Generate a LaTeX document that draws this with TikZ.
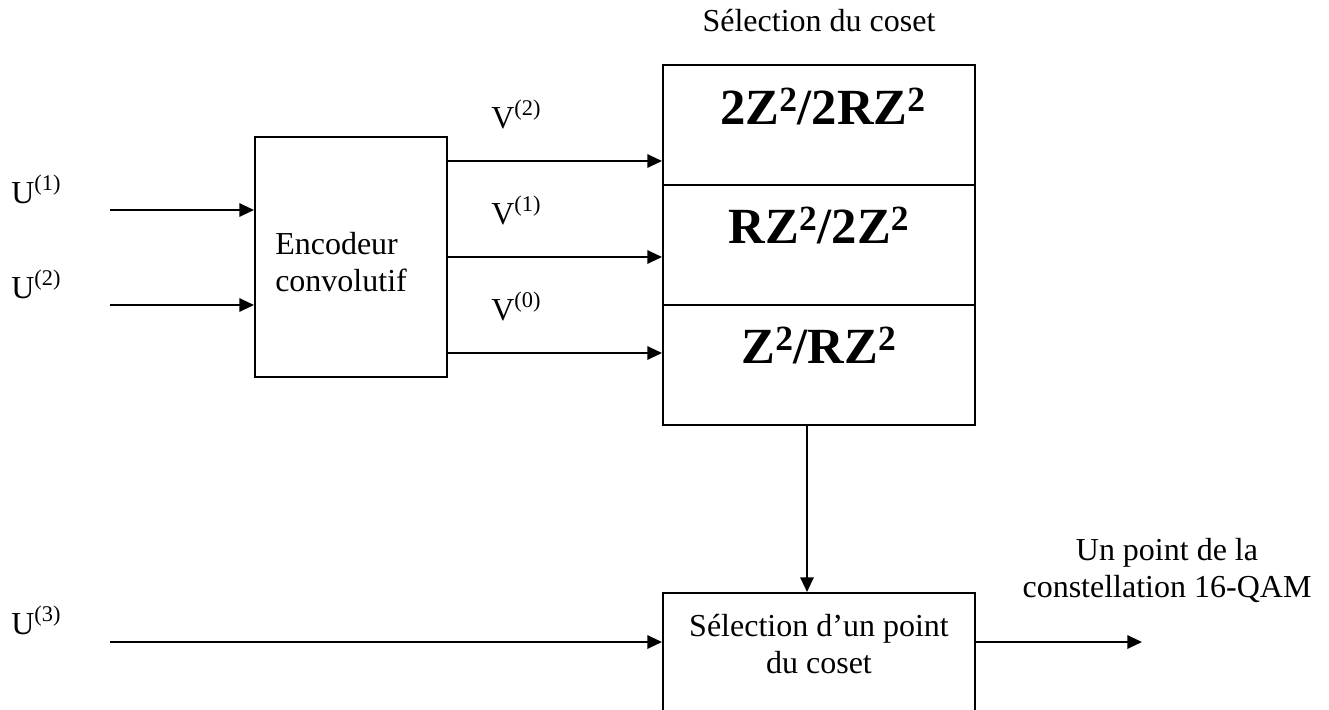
\documentclass[tikz,border=0pt]{standalone}
\usepackage{fontspec}
\setmainfont{Liberation Serif}
\usetikzlibrary{arrows.meta}
\begin{document}
\begin{tikzpicture}[x=0.75pt,y=-0.75pt,
  box/.style={draw,line width=1.5pt,inner sep=0pt,minimum width=234pt},
  arr/.style={line width=1.5pt,-{Triangle[length=11pt,width=10pt]}},
  lbl/.style={inner sep=0pt,font=\fontsize{24}{27.3}\selectfont},
  big/.style={inner sep=0pt,font=\fontsize{38}{42}\selectfont\bfseries}]
\useasboundingbox (0,0) rectangle (1329,710);
\clip (0,0) rectangle (1329,710);
% boxes
\node[box,minimum width=144pt,minimum height=180pt] (enc) at (351,257) {};
\node[box,minimum height=90pt] (c2) at (819,125) {};
\node[box,minimum height=90pt] (c1) at (819,245) {};
\node[box,minimum height=90pt] (c0) at (819,365) {};
\node[box,minimum height=105pt] (sel) at (819,663) {};
% texts
\node[lbl,anchor=base west,align=left] (enct) at (275,291) {Encodeur\\convolutif};
\node[lbl,anchor=base] (cosett) at (819,32) {Sélection du coset};
\node[big,anchor=base] (t2) at (823,124) {2Z\textsuperscript{2}/2RZ\textsuperscript{2}};
\node[big,anchor=base] (t1) at (819,243) {RZ\textsuperscript{2}/2Z\textsuperscript{2}};
\node[big,anchor=base] (t0) at (819,363) {Z\textsuperscript{2}/RZ\textsuperscript{2}};
\node[lbl,anchor=base,align=center] (selt) at (819,673) {Sélection d’un point\\du coset};
\node[lbl,anchor=base,align=center] (outt) at (1167,597) {Un point de la\\constellation 16-QAM};
\node[lbl,anchor=base west] (lu1) at (11,203) {U\textsuperscript{(1)}};
\node[lbl,anchor=base west] (lu2) at (11,298) {U\textsuperscript{(2)}};
\node[lbl,anchor=base west] (lu3) at (11,634) {U\textsuperscript{(3)}};
\node[lbl,anchor=base west] (lv2) at (491,128) {V\textsuperscript{(2)}};
\node[lbl,anchor=base west] (lv1) at (491,224) {V\textsuperscript{(1)}};
\node[lbl,anchor=base west] (lv0) at (491,320) {V\textsuperscript{(0)}};
% connector coordinates
\coordinate (u1) at (110,210);
\coordinate (u2) at (110,305);
\coordinate (u3) at (110,642);
\coordinate (v2) at (447,161);
\coordinate (v1) at (447,257);
\coordinate (v0) at (447,353);
\coordinate (vx) at (807,0);
\coordinate (out) at (1142,642);
% connectors
\draw[arr] (u1) -- (u1 -| enc.west);
\draw[arr] (u2) -- (u2 -| enc.west);
\draw[arr] (v2 -| enc.east) -- (v2 -| c2.west);
\draw[arr] (v1 -| enc.east) -- (v1 -| c1.west);
\draw[arr] (v0 -| enc.east) -- (v0 -| c0.west);
\draw[arr] (vx |- c0.south) -- (vx |- sel.north);
\draw[arr] (u3) -- (u3 -| sel.west);
\draw[arr] (sel.east |- out) -- (out);
\end{tikzpicture}
\end{document}
